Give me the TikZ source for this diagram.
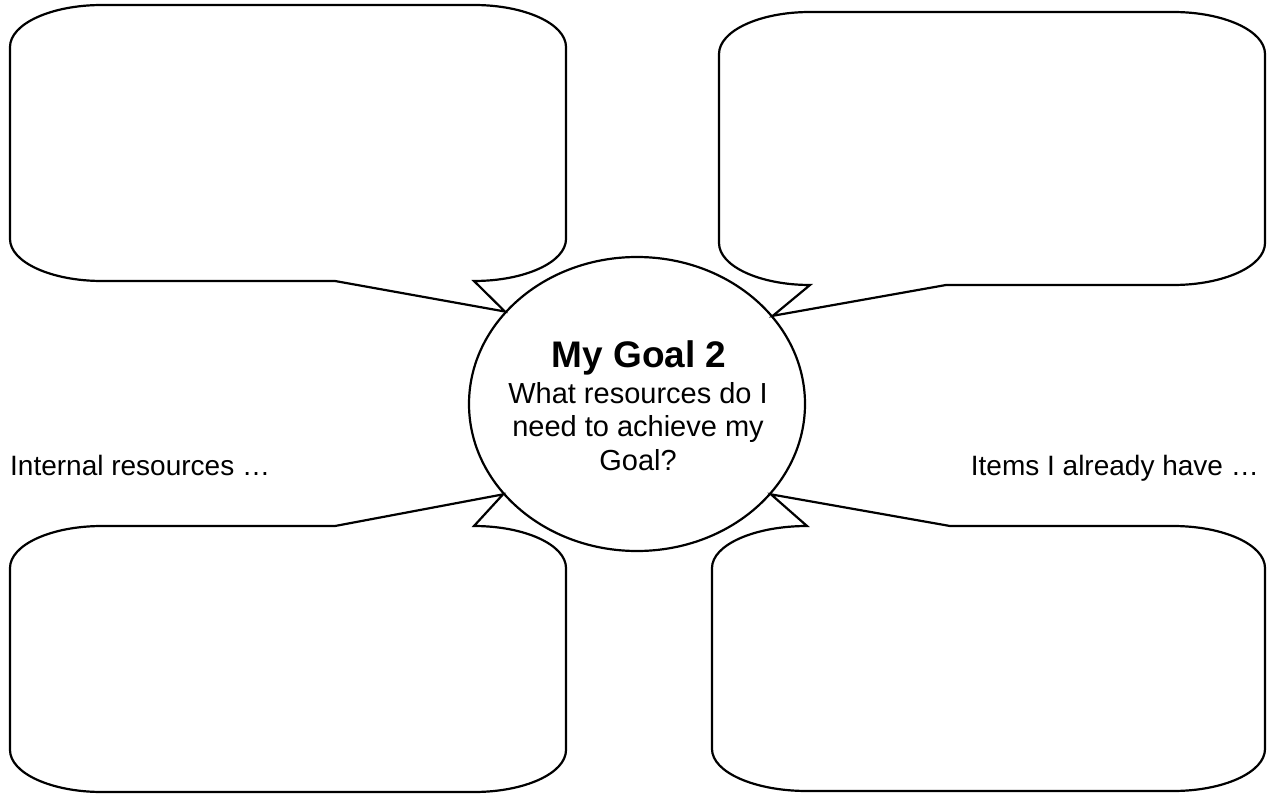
\documentclass[tikz,border=0pt]{standalone}
\usepackage{fontspec}
\setmainfont{Liberation Sans}
\usetikzlibrary{shapes.geometric}
\tikzset{
  outline/.style={draw=black, line width=2.2pt, line join=miter},
  bodytext/.style={font=\fontsize{29}{33.5}\selectfont, inner sep=0pt},
  sidetext/.style={font=\fontsize{28}{33}\selectfont, inner sep=0pt},
  titletext/.style={font=\fontsize{37}{40}\selectfont\bfseries, inner sep=0pt},
}
\def\k{0.448}
\begin{document}
\begin{tikzpicture}[x=1pt,y=-1pt]
\useasboundingbox (0,0) rectangle (1273,794);
\fill[white] (0,0) rectangle (1273,794);

% central ellipse
\node[ellipse, outline, fill=white, minimum width=336, minimum height=294, inner sep=0pt] (goal) at (637,404) {};

% tail tips on the ellipse
\coordinate (tTL) at (goal.145.7);
\coordinate (tTR) at (goal.33.5);
\coordinate (tBL) at (goal.214.6);
\coordinate (tBR) at (goal.326.5);

% top-left callout: x 10..566, y 5..281
\draw[outline]
  (10,47) .. controls (10,{47-42*(1-\k)}) and ({102-92*(1-\k)},5) .. (102,5)
  -- (474,5) .. controls ({474+92*(1-\k)},5) and (566,{47-42*(1-\k)}) .. (566,47)
  -- (566,239) .. controls (566,{239+42*(1-\k)}) and ({474+92*(1-\k)},281) .. (474,281)
  -- (tTL) -- (335,281)
  -- (102,281) .. controls ({102-92*(1-\k)},281) and (10,{239+42*(1-\k)}) .. (10,239)
  -- cycle;

% top-right callout: x 719..1265, y 12..285
\draw[outline]
  (719,54) .. controls (719,{54-42*(1-\k)}) and ({810-91*(1-\k)},12) .. (810,12)
  -- (1173,12) .. controls ({1173+92*(1-\k)},12) and (1265,{54-42*(1-\k)}) .. (1265,54)
  -- (1265,243) .. controls (1265,{243+42*(1-\k)}) and ({1173+92*(1-\k)},285) .. (1173,285)
  -- (946,285) -- (tTR) -- (810,285)
  .. controls ({810-91*(1-\k)},285) and (719,{243+42*(1-\k)}) .. (719,243)
  -- cycle;

% bottom-left callout: x 10..566, y 526..792
\draw[outline]
  (10,568) .. controls (10,{568-42*(1-\k)}) and ({102-92*(1-\k)},526) .. (102,526)
  -- (335,526) -- (tBL) -- (474,526)
  .. controls ({474+92*(1-\k)},526) and (566,{568-42*(1-\k)}) .. (566,568)
  -- (566,750) .. controls (566,{750+42*(1-\k)}) and ({474+92*(1-\k)},792) .. (474,792)
  -- (102,792) .. controls ({102-92*(1-\k)},792) and (10,{750+42*(1-\k)}) .. (10,750)
  -- cycle;

% bottom-right callout: x 712..1265, y 526..791
\draw[outline]
  (712,568) .. controls (712,{568-42*(1-\k)}) and ({807-95*(1-\k)},526) .. (807,526)
  -- (tBR) -- (950,526)
  -- (1173,526) .. controls ({1173+92*(1-\k)},526) and (1265,{568-42*(1-\k)}) .. (1265,568)
  -- (1265,749) .. controls (1265,{749+42*(1-\k)}) and ({1173+92*(1-\k)},791) .. (1173,791)
  -- (807,791) .. controls ({807-95*(1-\k)},791) and (712,{749+42*(1-\k)}) .. (712,749)
  -- cycle;

% texts
\node[titletext, anchor=base] (title) at (639,367) {My Goal 2};
\node[bodytext, anchor=base, align=center] (question) at (638,470)
  {What resources do I\\need to achieve my\\Goal?};
\node[sidetext, anchor=base west] (internal) at (10,475) {Internal resources …};
\node[sidetext, anchor=base east] (items) at (1259,475) {Items I already have …};
\end{tikzpicture}
\end{document}
